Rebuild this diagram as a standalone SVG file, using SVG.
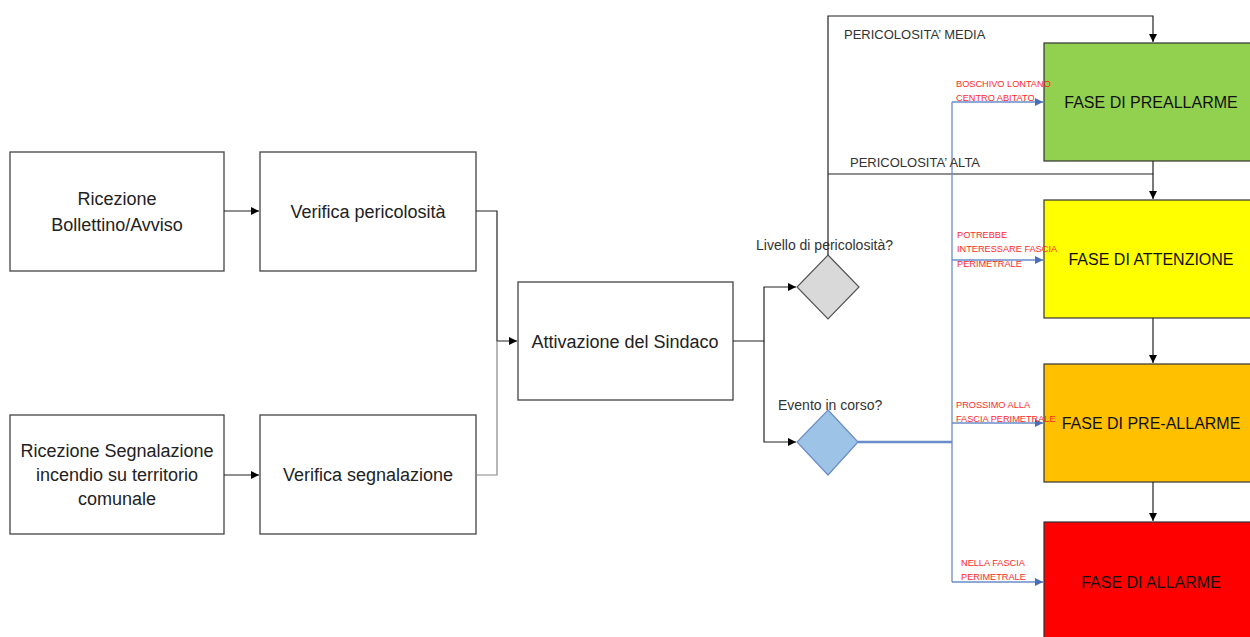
<svg xmlns="http://www.w3.org/2000/svg" width="1250" height="637" viewBox="0 0 1250 637">
<defs>
<marker id="ab" viewBox="0 0 10 10" refX="10" refY="5" markerWidth="8" markerHeight="8" markerUnits="userSpaceOnUse" orient="auto"><path d="M0,0 L10,5 L0,10 z" fill="#000"/></marker>
<marker id="abl" viewBox="0 0 10 10" refX="10" refY="5" markerWidth="8" markerHeight="8" markerUnits="userSpaceOnUse" orient="auto"><path d="M0,0 L10,5 L0,10 z" fill="#4a6fb8"/></marker>
<style>
.box{fill:#fff;stroke:#444;stroke-width:1.3}
.t{font-family:"Liberation Sans",Arial,sans-serif;font-size:18px;fill:#222;text-anchor:middle}
.ph{font-family:"Liberation Sans",Arial,sans-serif;font-size:16px;fill:#111;text-anchor:middle}
.lb{font-family:"Liberation Sans",Arial,sans-serif;font-size:13px;fill:#333}
.q{font-family:"Liberation Sans",Arial,sans-serif;font-size:14px;fill:#333}
.rl{font-family:"Liberation Sans",Arial,sans-serif;font-size:9.2px;fill:#ff2a2a}
.c{fill:none;stroke:#222;stroke-width:1.2}
.cg{fill:none;stroke:#888;stroke-width:1.2}
.cb{fill:none;stroke:#6a8cc8;stroke-width:1.3}
.cbt{fill:none;stroke:#6a8cc8;stroke-width:2.5}
</style>
</defs>
<g id="n-ricezione-bollettino">
<rect class="box" x="10" y="152" width="214" height="119"/>
<text class="t" x="117" y="205">Ricezione</text>
<text class="t" x="117" y="231">Bollettino/Avviso</text>
</g>
<g id="n-verifica-pericolosita">
<rect class="box" x="260" y="152" width="216" height="119"/>
<text class="t" x="368" y="218">Verifica pericolosità</text>
</g>
<g id="n-ricezione-segnalazione">
<rect class="box" x="10" y="415" width="214" height="119"/>
<text class="t" x="117" y="457">Ricezione Segnalazione</text>
<text class="t" x="117" y="481">incendio su territorio</text>
<text class="t" x="117" y="505">comunale</text>
</g>
<g id="n-verifica-segnalazione">
<rect class="box" x="260" y="415" width="216" height="119"/>
<text class="t" x="368" y="481">Verifica segnalazione</text>
</g>
<g id="n-attivazione">
<rect class="box" x="518" y="282" width="215" height="118"/>
<text class="t" x="625" y="348">Attivazione del Sindaco</text>
</g>
<g id="n-livello">
<polygon points="828,255 859,287 828,319 797,287" fill="#d9d9d9" stroke="#555" stroke-width="1.2"/>
<text class="q" x="756" y="250">Livello di pericolosità?</text>
</g>
<g id="n-evento">
<polygon points="828,410 858,442 828,475 797,442" fill="#9dc3e6" stroke="#6a8cc8" stroke-width="1.2"/>
<text class="q" x="778" y="410">Evento in corso?</text>
</g>
<g id="n-preallarme">
<rect x="1044" y="43" width="210" height="118" fill="#92d050" stroke="#333" stroke-width="1.2"/>
<text class="ph" x="1151" y="108">FASE DI PREALLARME</text>
</g>
<g id="n-attenzione">
<rect x="1044" y="200" width="210" height="118" fill="#ffff00" stroke="#333" stroke-width="1.2"/>
<text class="ph" x="1151" y="265">FASE DI ATTENZIONE</text>
</g>
<g id="n-pre-allarme">
<rect x="1044" y="364" width="210" height="118" fill="#ffc000" stroke="#333" stroke-width="1.2"/>
<text class="ph" x="1151" y="429">FASE DI PRE-ALLARME</text>
</g>
<g id="n-allarme">
<rect x="1044" y="522" width="210" height="120" fill="#ff0000" stroke="#333" stroke-width="1.2"/>
<text class="ph" x="1151" y="588">FASE DI ALLARME</text>
</g>
<g id="connectors">
<path class="c" d="M224,211 H259" marker-end="url(#ab)"/>
<path class="c" d="M224,475 H259" marker-end="url(#ab)"/>
<path class="c" d="M476,211 H497 V341 H517" marker-end="url(#ab)"/>
<path class="cg" d="M476,475 H497 V341"/>
<path class="c" d="M733,341 H764 V287 H796" marker-end="url(#ab)"/>
<path class="c" d="M764,341 V442 H796" marker-end="url(#ab)"/>
<path class="c" d="M828,255 V16 H1153 V42" marker-end="url(#ab)"/>
<path class="c" d="M828,174 H1153 V199" marker-end="url(#ab)"/>
<path class="c" d="M1153,161 V174"/>
<path class="c" d="M1153,318 V363" marker-end="url(#ab)"/>
<path class="c" d="M1153,482 V521" marker-end="url(#ab)"/>
<path class="cbt" d="M858,442 H952"/>
<path class="cb" d="M952,102 V582"/>
<path class="cb" d="M952,102 H1043" marker-end="url(#abl)"/>
<path class="cb" d="M952,260 H1043" marker-end="url(#abl)"/>
<path class="cb" d="M952,423 H1043" marker-end="url(#abl)"/>
<path class="cb" d="M952,582 H1043" marker-end="url(#abl)"/>
<text class="lb" x="844" y="38.5">PERICOLOSITA’ MEDIA</text>
<text class="lb" x="850" y="166.5">PERICOLOSITA’ ALTA</text>
<text class="rl" x="956" y="87">BOSCHIVO LONTANO</text>
<text class="rl" x="956" y="101">CENTRO ABITATO</text>
<text class="rl" x="957" y="238">POTREBBE</text>
<text class="rl" x="957" y="252">INTERESSARE FASCIA</text>
<text class="rl" x="957" y="267">PERIMETRALE</text>
<text class="rl" x="956" y="408">PROSSIMO ALLA</text>
<text class="rl" x="956" y="422">FASCIA PERIMETRALE</text>
<text class="rl" x="961" y="566">NELLA FASCIA</text>
<text class="rl" x="961" y="580">PERIMETRALE</text>
</g>
</svg>
